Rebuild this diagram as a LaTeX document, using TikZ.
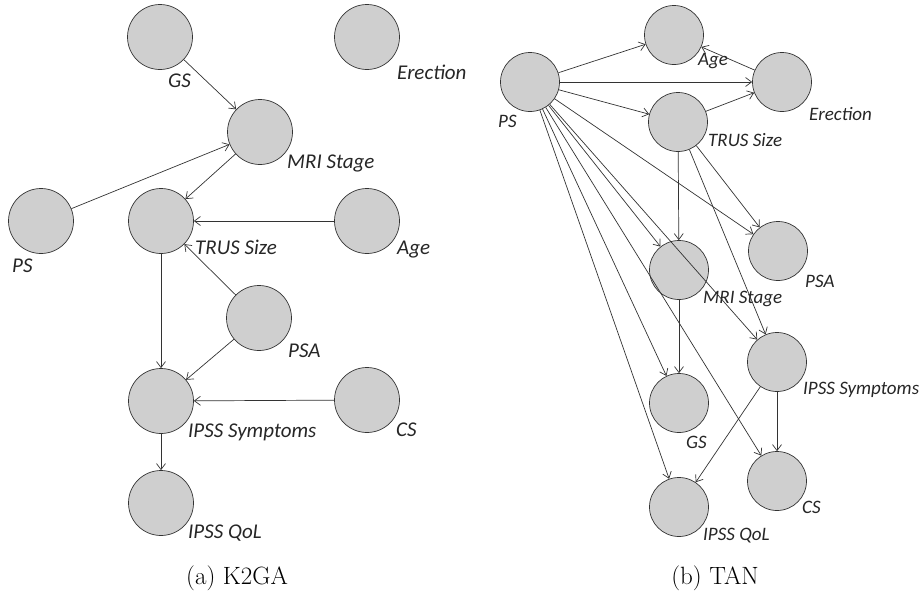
\documentclass[tikz,border=0pt]{standalone}
\usepackage{fontspec}
\newfontfamily\labfont{Carlito}
\usetikzlibrary{arrows.meta}
\tikzset{
  bnode/.style={circle, draw=black!80, fill=black!19, line width=0.7pt, inner sep=0pt},
  bigvar/.style={bnode, minimum size=65pt},
  smallvar/.style={bnode, minimum size=59pt},
  biglab/.style={anchor=base west, inner sep=0pt, font=\labfont\itshape\fontsize{21}{24}\selectfont, text=black!85},
  smalllab/.style={anchor=base west, inner sep=0pt, font=\labfont\itshape\fontsize{19}{22}\selectfont, text=black!85},
  edge/.style={draw=black!80, line width=0.7pt, -{Straight Barb[length=6pt,width=9pt]}},
  caption/.style={font=\fontsize{25}{30}\selectfont, inner sep=0pt}
}
\begin{document}
\begin{tikzpicture}[x=1pt, y=-1pt]
\useasboundingbox (0,0) rectangle (924,600);

% ---------- (a) K2GA ----------
\node[bigvar] (aGS)  at (160,37)  {};
\node[bigvar] (aER)  at (367,37)  {};
\node[bigvar] (aMRI) at (260,132) {};
\node[bigvar] (aPS)  at (41,221)  {};
\node[bigvar] (aTR)  at (161,221) {};
\node[bigvar] (aAGE) at (367,221) {};
\node[bigvar] (aPSA) at (259,318) {};
\node[bigvar] (aSY)  at (161,401) {};
\node[bigvar] (aCS)  at (367,400) {};
\node[bigvar] (aQL)  at (161,503) {};

\node[biglab] (laGS)  at (168,87)  {GS};
\node[biglab] (laER)  at (397,79)  {Erection};
\node[biglab] (laMRI) at (287,168) {MRI Stage};
\node[biglab] (laPS)  at (12,272)  {PS};
\node[biglab] (laTR)  at (195,254) {TRUS Size};
\node[biglab] (laAGE) at (397,254) {Age};
\node[biglab] (laPSA) at (288,357) {PSA};
\node[biglab] (laSY)  at (188,437) {IPSS Symptoms};
\node[biglab] (laCS)  at (396,436) {CS};
\node[biglab] (laQL)  at (188,538) {IPSS QoL};

\draw[edge] (aGS)  -- (aMRI);
\draw[edge] (aPS)  -- (aMRI);
\draw[edge] (aMRI) -- (aTR);
\draw[edge] (aAGE) -- (aTR);
\draw[edge] (aPSA) -- (aTR);
\draw[edge] (aTR)  -- (aSY);
\draw[edge] (aPSA) -- (aSY);
\draw[edge] (aCS)  -- (aSY);
\draw[edge] (aSY)  -- (aQL);

\node[caption] (capA) at (237,578) {(a) K2GA};

% ---------- (b) TAN ----------
\node[smallvar] (bPS)  at (530,82)  {};
\node[smallvar] (bAGE) at (674,35)  {};
\node[smallvar] (bER)  at (782,82)  {};
\node[smallvar] (bTR)  at (678,122) {};
\node[smallvar] (bPSA) at (778,251) {};
\node[smallvar] (bMRI) at (679,270) {};
\node[smallvar] (bSY)  at (777,362) {};
\node[smallvar] (bGS)  at (679,403) {};
\node[smallvar] (bCS)  at (777,481) {};
\node[smallvar] (bQL)  at (679,507) {};

\node[smalllab] (lbPS)  at (498,127) {PS};
\node[smalllab] (lbAGE) at (698,65)  {Age};
\node[smalllab] (lbER)  at (809,120) {Erection};
\node[smalllab] (lbTR)  at (708,146) {TRUS Size};
\node[smalllab] (lbPSA) at (805,287) {PSA};
\node[smalllab] (lbMRI) at (703,303) {MRI Stage};
\node[smalllab] (lbSY)  at (803,394) {IPSS Symptoms};
\node[smalllab] (lbGS)  at (686,448) {GS};
\node[smalllab] (lbCS)  at (802,513) {CS};
\node[smalllab] (lbQL)  at (703,540) {IPSS QoL};

% class node to every attribute
\foreach \t in {bAGE,bER,bTR,bPSA,bMRI,bSY,bGS,bCS,bQL}
  \draw[edge] (bPS) -- (\t);
% tree among attributes
\draw[edge] (bER)  -- (bAGE);
\draw[edge] (bTR)  -- (bER);
\draw[edge] (bTR)  -- (bMRI);
\draw[edge] (bTR)  -- (bPSA);
\draw[edge] (bTR)  -- (bSY);
\draw[edge] (bMRI) -- (bGS);
\draw[edge] (bSY)  -- (bQL);
\draw[edge] (bSY)  -- (bCS);

\node[caption] (capB) at (715,578) {(b) TAN};
\end{tikzpicture}
\end{document}
